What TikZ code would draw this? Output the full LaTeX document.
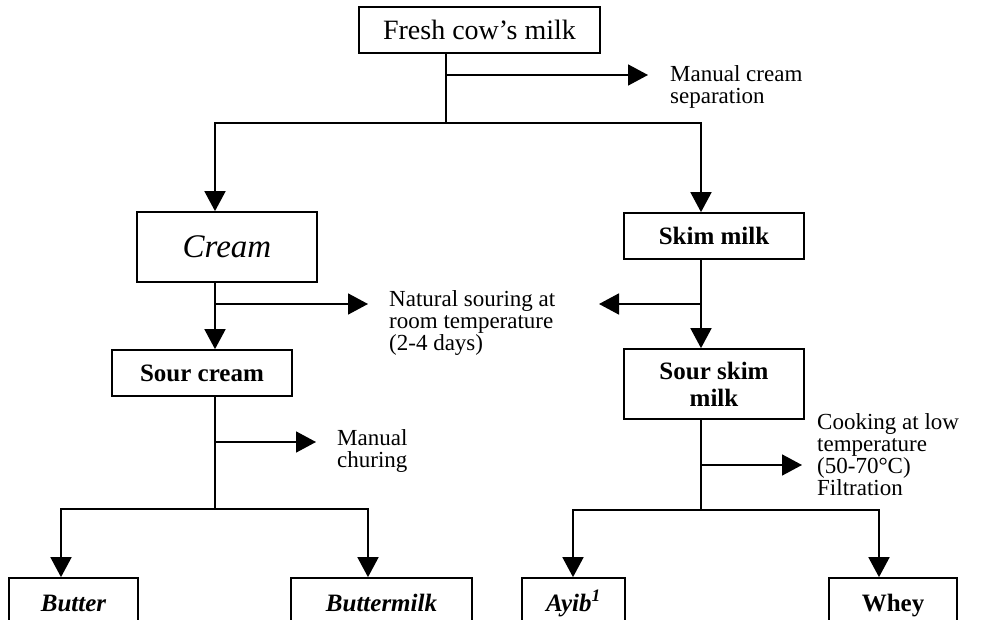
\documentclass[tikz,border=0pt]{standalone}
\usepackage{fontspec}
\setmainfont{Liberation Serif}
\usetikzlibrary{positioning, arrows.meta, calc}

\begin{document}
\begin{tikzpicture}[x=1pt, y=-1pt,
    stage/.style={draw, line width=1.7pt, inner sep=0pt, align=center,
                  minimum height=46pt, font=\fontsize{25}{27}\selectfont\bfseries},
    endstage/.style={stage, text height=25pt, text depth=5pt},
    product/.style={endstage, font=\fontsize{25}{27}\selectfont\bfseries\itshape},
    note/.style={anchor=west, inner sep=0pt, align=left, font=\fontsize{23}{22}\selectfont},
    flow/.style={line width=1.7pt, line cap=rect},
    flowto/.style={flow, -{Triangle[length=20pt, width=21pt]}}]
  \useasboundingbox (0,0) rectangle (991,620);
  \clip (0,0) rectangle (991,620);

  \node[stage, minimum width=241pt, font=\fontsize{28}{30}\selectfont] (fresh) at (479.5,30) {Fresh cow's milk};
  \node[stage, minimum width=180pt, minimum height=70pt, font=\fontsize{33}{35}\selectfont\itshape] (cream) at (227,247) {Cream};
  \node[stage, minimum width=180pt] (skim) at (714,236) {Skim milk};
  \node[stage, minimum width=180pt] (sourcream) at (202,373) {Sour cream};
  \node[stage, minimum width=180pt, minimum height=70pt] (sourskim) at (714,384) {Sour skim\\milk};
  \node[product, minimum width=129pt] (butter) at (73.5,601) {Butter};
  \node[product, minimum width=181pt] (buttermilk) at (381.5,601) {Buttermilk};
  \node[product, minimum width=103pt] (ayib) at (573.5,601) {Ayib\textsuperscript{1}};
  \node[endstage, minimum width=128pt] (whey) at (893,601) {Whey};

  \node[note] (sepnote) at (670,86.5) {Manual cream\\separation};
  \node[note] (sournote) at (389,323.5) {Natural souring at\\room temperature\\(2-4 days)};
  \node[note] (churnote) at (337,451) {Manual\\churing};
  \node[note] (cooknote) at (817,455) {Cooking at low\\temperature\\(50-70°C)\\Filtration};

  \coordinate (split) at (446,123);
  \coordinate (sepside) at (446,75);
  \coordinate (septo) at (648,75);
  \coordinate (creamsplit) at (215,123);
  \coordinate (skimsplit) at (701,123);
  \coordinate (creamside) at (215,304);
  \coordinate (creamto) at (368,304);
  \coordinate (skimside) at (701,304);
  \coordinate (skimto) at (599,304);
  \coordinate (churnside) at (215,442);
  \coordinate (churnto) at (316,442);
  \coordinate (churnsplit) at (215,509);
  \coordinate (buttersplit) at (61,509);
  \coordinate (bmsplit) at (368,509);
  \coordinate (cookside) at (701,465);
  \coordinate (cookto) at (802,465);
  \coordinate (cooksplit) at (701,510);
  \coordinate (ayibsplit) at (573,510);
  \coordinate (wheysplit) at (879,510);

  \draw[flow] (fresh.south -| split) -- (split);
  \draw[flowto] (sepside) -- (septo);
  \draw[flow] (creamsplit) -- (skimsplit);
  \draw[flowto] (creamsplit) -- (creamsplit |- cream.north);
  \draw[flowto] (skimsplit) -- (skimsplit |- skim.north);

  \draw[flowto] (cream.south -| creamside) -- (creamside |- sourcream.north);
  \draw[flowto] (creamside) -- (creamto);
  \draw[flowto] (skim.south -| skimside) -- (skimside |- sourskim.north);
  \draw[flowto] (skimside) -- (skimto);

  \draw[flow] (sourcream.south -| churnsplit) -- (churnsplit);
  \draw[flowto] (churnside) -- (churnto);
  \draw[flow] (buttersplit) -- (bmsplit);
  \draw[flowto] (buttersplit) -- (buttersplit |- butter.north);
  \draw[flowto] (bmsplit) -- (bmsplit |- buttermilk.north);

  \draw[flow] (sourskim.south -| cooksplit) -- (cooksplit);
  \draw[flowto] (cookside) -- (cookto);
  \draw[flow] (ayibsplit) -- (wheysplit);
  \draw[flowto] (ayibsplit) -- (ayibsplit |- ayib.north);
  \draw[flowto] (wheysplit) -- (wheysplit |- whey.north);
\end{tikzpicture}
\end{document}
